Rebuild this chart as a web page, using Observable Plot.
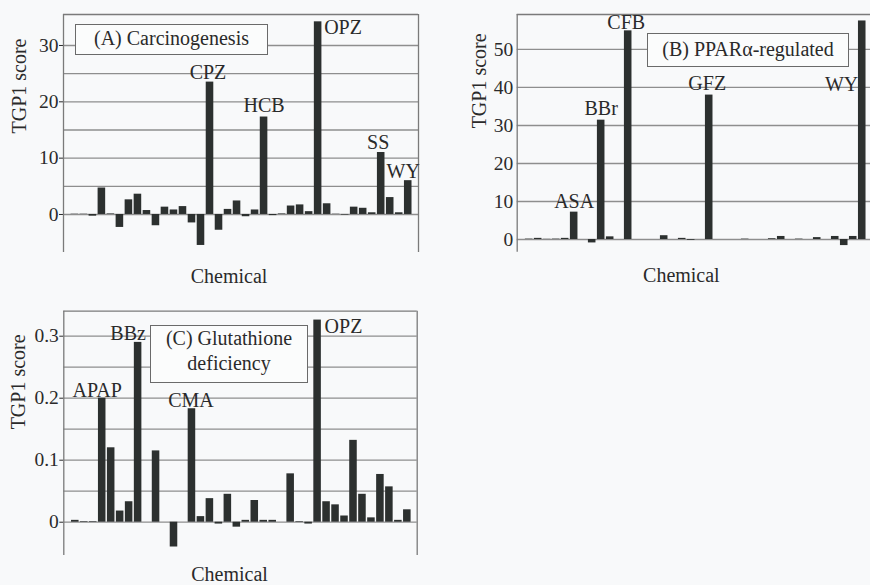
<!DOCTYPE html>
<html><head><meta charset="utf-8">
<script src="https://cdn.jsdelivr.net/npm/d3@7"></script>
<script src="https://cdn.jsdelivr.net/npm/@observablehq/plot@0.6"></script>
<style>
html,body{margin:0;padding:0;background:#f8f9fa;}
#wrap{position:relative;width:870px;height:585px;overflow:hidden;font-family:"Liberation Serif","DejaVu Serif",serif;color:#2a2a2a;}
.panel{position:absolute;}
.panel svg{max-width:none !important;display:block;}
.box{position:absolute;box-sizing:border-box;border:1.6px solid #6a6a6a;background:#fbfcfc;font-size:20px;text-align:center;color:#2a2a2a;white-space:nowrap;font-family:"Liberation Serif","DejaVu Serif",serif;}
</style></head><body><div id="wrap"></div>
<script>
// ---- data ----
const scoresA = [0.05, 0.05, -0.3, 4.7, 0.1, -2.3, 2.6, 3.6, 0.7, -2.0, 1.3, 0.8, 1.4, -1.5, -5.5, 23.5, -2.8, 0.9, 2.4, -0.4, 0.8, 17.3, -0.2, 0.1, 1.5, 1.7, 0.5, 34.2, 1.9, 0.05, -0.1, 1.3, 1.1, 0.3, 11.0, 3.0, 0.3, 6.0];
const scoresB = [0.1, 0.3, 0.05, 0.1, 0.3, 7.2, 0, -0.9, 31.4, 0.7, 0, 54.9, 0, 0, 0, 1.0, 0, 0.3, -0.2, 0, 38.0, 0, 0, 0, 0.1, 0, 0, 0.2, 0.8, 0, 0.1, 0, 0.5, 0, 0.8, -1.6, 0.8, 57.5];
const scoresC = [0.003, 0.001, 0.001, 0.200, 0.120, 0.018, 0.033, 0.290, 0, 0.115, 0, -0.040, 0, 0.183, 0.009, 0.038, -0.003, 0.045, -0.008, 0.003, 0.035, 0.003, 0.003, 0, 0.078, 0.001, -0.003, 0.326, 0.033, 0.028, 0.010, 0.132, 0.045, 0.007, 0.077, 0.057, 0.003, 0.020];

const labelNamesA = ["CPZ", "HCB", "OPZ", "SS", "WY"];
const labelIdxA = [15, 21, 27, 34, 37];
const labelNamesB = ["ASA", "BBr", "CFB", "GFZ", "WY"];
const labelIdxB = [5, 8, 11, 20, 37];
const labelNamesC = ["APAP", "BBz", "CMA", "OPZ"];
const labelIdxC = [3, 7, 13, 27];

const gridA = [0, 5, 10, 15, 20, 25, 30];
const ticksA = [0, 10, 20, 30];
const gridB = [0, 10, 20, 30, 40, 50];
const ticksB = [0, 10, 20, 30, 40, 50];
const gridC = [0, 0.05, 0.1, 0.15, 0.2, 0.25, 0.3];
const ticksC = [0, 0.1, 0.2, 0.3];

const titleA = ["(A) Carcinogenesis"];
const titleB = ["(B) PPARα-regulated"];
const titleC = ["(C) Glutathione", "deficiency"];
const yTitle = "TGP1 score";
const xTitle = "Chemical";

// ---- label offsets (style only) ----
const labelStyle = {
  A: {CPZ: {dx: -2, dy: -3}, HCB: {dx: 0, dy: -5}, OPZ: {anchor: "start", dx: 6, dy: 12}, SS: {dx: -3, dy: -4}, WY: {dx: -5, dy: -3}},
  B: {ASA: {dx: 0, dy: -4}, BBr: {dx: 0, dy: -5}, CFB: {dx: -2, dy: -2}, GFZ: {dx: -2, dy: -5}, WY: {anchor: "end", dx: -4, dy: 70}},
  C: {APAP: {dx: -5, dy: -1}, BBz: {dx: -10, dy: -2}, CMA: {dx: -1, dy: -2}, OPZ: {anchor: "start", dx: 7, dy: 13}}
};

const FONT = "'Liberation Serif', 'DejaVu Serif', serif";
const FS = 20;
const BAR = "#2c302f";
const GRID = "#8e8e8e";
const FRAME = "#7a7a7a";
const TXT = "#2a2a2a";

function makePanel(o) {
  const data = o.scores.map((v, i) => ({i, v}));
  const labels = o.labelIdx.map((i, k) => ({i, v: o.scores[i], name: o.labelNames[k]}));
  const labelMarks = labels.map(l => {
    const s = o.style[l.name];
    return Plot.text([l], {x: "i", y: "v", text: "name", textAnchor: s.anchor || "middle",
      lineAnchor: "bottom", dx: s.dx, dy: s.dy, fontSize: FS, fill: TXT, fontFamily: FONT});
  });
  return Plot.plot({
    width: o.width, height: o.height,
    marginLeft: o.ml, marginRight: o.mr, marginTop: o.mt, marginBottom: o.mb,
    style: {fontFamily: FONT, fontSize: "19.5px", background: "transparent", color: TXT, overflow: "visible", maxWidth: "none"},
    x: {domain: o.xDom, axis: null},
    y: {domain: o.yDom, ticks: o.ticks, tickSize: o.tickSize, tickPadding: o.tickPadding,
        tickFormat: d => String(d), label: null},
    marks: [
      Plot.ruleY(o.grid, {stroke: GRID, strokeWidth: 1.3}),
      Plot.ruleY([o.yDom[1]], {stroke: FRAME, strokeWidth: 1.3}),
      Plot.ruleX([o.xDom[0], o.xDom[1]], {y1: o.yDom[0], y2: o.yDom[1], stroke: FRAME, strokeWidth: 1.3}),
      Plot.rect(data, {x1: d => d.i - 0.42, x2: d => d.i + 0.42, y1: 0, y2: "v", fill: BAR}),
      ...labelMarks,
      Plot.text([yTitle], {frameAnchor: "left", rotate: -90, dx: o.yl[0], dy: o.yl[1], fontSize: FS, fill: TXT, fontFamily: FONT}),
      Plot.text([xTitle], {frameAnchor: "bottom", lineAnchor: "bottom", dx: o.xl[0], dy: o.xl[1], fontSize: FS, fill: TXT, fontFamily: FONT})
    ]
  });
}

function place(svg, left, top, w) {
  const d = document.createElement("div");
  d.className = "panel";
  d.style.left = left + "px";
  d.style.top = top + "px";
  d.style.width = w + "px";
  d.appendChild(svg);
  document.getElementById("wrap").appendChild(d);
}
function box(lines, left, top, w, h, lh) {
  const d = document.createElement("div");
  d.className = "box";
  Object.assign(d.style, {left: left + "px", top: top + "px", width: w + "px", height: h + "px", lineHeight: lh + "px"});
  d.innerHTML = lines.join("<br>");
  document.getElementById("wrap").appendChild(d);
}

place(makePanel({scores: scoresA, labelIdx: labelIdxA, labelNames: labelNamesA, style: labelStyle.A,
  width: 435, height: 290, ml: 63, mr: 17, mt: 14, mb: 38,
  xDom: [-1.26, 38.14], yDom: [-6.75, 35.5], grid: gridA, ticks: ticksA, tickSize: 4, tickPadding: 1,
  yl: [-44, 0], xl: [-12, 30]}), 0, 0, 435);

place(makePanel({scores: scoresB, labelIdx: labelIdxB, labelNames: labelNamesB, style: labelStyle.B,
  width: 445, height: 290, ml: 81.7, mr: 8, mt: 14, mb: 38.3,
  xDom: [-1.33, 38.14], yDom: [-3.34, 59.2], grid: gridB, ticks: ticksB, tickSize: 0, tickPadding: 4,
  yl: [-38, -5], xl: [-13.5, 30]}), 435, 0, 445);

place(makePanel({scores: scoresC, labelIdx: labelIdxC, labelNames: labelNamesC, style: labelStyle.C,
  width: 435, height: 295, ml: 63.3, mr: 18.3, mt: 20.7, mb: 30,
  xDom: [-1.28, 38.1], yDom: [-0.0537, 0.3403], grid: gridC, ticks: ticksC, tickSize: 4, tickPadding: 1,
  yl: [-45, -4], xl: [-11, 25]}), 0, 290, 435);

box(titleA, 75, 24, 193, 31, 27);
box(titleB, 647, 33, 202, 34, 30);
box(titleC, 150, 325, 158, 58, 25);
</script></body></html>
